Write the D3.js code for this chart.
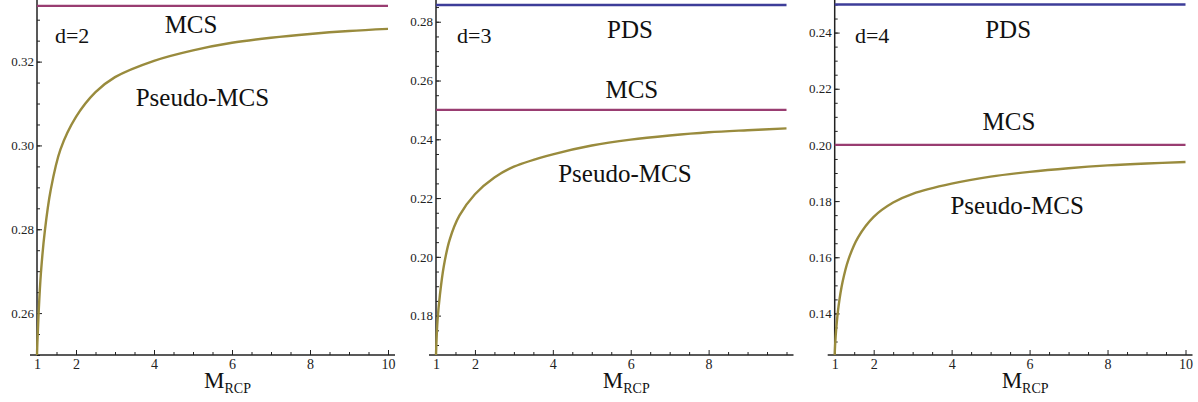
<!DOCTYPE html>
<html>
<head>
<meta charset="utf-8">
<script src="https://cdn.jsdelivr.net/npm/d3@7"></script>
<style>
  body { margin: 0; background: #fff; }
  svg text { font-family: "Liberation Serif", "Times New Roman", "DejaVu Serif", serif; }
</style>
</head>
<body>
<div id="chart"></div>
<script>
// values
const mGrid = [1, 1.01, 1.04, 1.1, 1.2, 1.35, 1.6, 2, 2.5, 3, 4, 5, 6, 7, 8, 9, 10];
const pseudoD2 = [0.25, 0.2531, 0.2597, 0.2695, 0.2795, 0.2893, 0.2990, 0.3068, 0.3127, 0.3163, 0.3202, 0.3227, 0.3245, 0.3257, 0.3266, 0.3273, 0.3278];
const pseudoD3 = [0.1666, 0.1705, 0.1785, 0.1870, 0.1968, 0.2058, 0.2140, 0.2213, 0.2270, 0.2307, 0.2349, 0.2379, 0.2399, 0.2413, 0.2424, 0.2431, 0.2437];
const pseudoD4 = [0.1252, 0.1286, 0.1347, 0.1427, 0.1511, 0.1591, 0.1671, 0.1744, 0.1795, 0.1826, 0.1862, 0.1887, 0.1904, 0.1917, 0.1927, 0.1934, 0.1939];

const dLabels = ["d=2", "d=3", "d=4"];
const mcsLevels = [0.3333, 0.25, 0.20];
const pdsLevels = [null, 0.2857, 0.25];

const yDomains = [[0.25, 0.3347], [0.1666, 0.2874], [0.1252, 0.2516]];
const yMajorTicks = [
  [0.26, 0.28, 0.30, 0.32],
  [0.18, 0.20, 0.22, 0.24, 0.26, 0.28],
  [0.14, 0.16, 0.18, 0.20, 0.22, 0.24]
];
const xMajorTicks = [[1, 2, 4, 6, 8, 10], [1, 2, 4, 6, 8], [1, 2, 4, 6, 8, 10]];

// annotation anchors in data coordinates [M, value]
const dLabelPos = [[1.46, 0.3245], [1.54, 0.2729], [1.52, 0.2364]];
const mcsLabelPos = [[4.95, 0.3268], [6.03, 0.2539], [5.47, 0.2053]];
const pdsLabelPos = [null, [5.98, 0.2746], [5.45, 0.2382]];
const pseudoLabelPos = [[5.24, 0.3094], [5.85, 0.2255], [5.68, 0.1754]];

const pseudoSeries = [pseudoD2, pseudoD3, pseudoD4];

const width = 1198, height = 402;
const xRanges = [[37, 388], [436, 786.5], [834.7, 1185.5]];
const yRange = [355, 0];
const serif = "'Liberation Serif', 'Times New Roman', 'DejaVu Serif', serif";

const colMCS = "#993d71", colPDS = "#3d3d99", colPseudo = "#998b3d";

const svg = d3.select("#chart").append("svg")
  .attr("width", width)
  .attr("height", height)
  .style("display", "block");

function minorValues(lo, hi, step) {
  const out = [];
  const n0 = Math.ceil(lo / step - 1e-9), n1 = Math.floor(hi / step + 1e-9);
  for (let i = n0; i <= n1; i++) out.push(+(i * step).toFixed(4));
  return out;
}

for (let p = 0; p < 3; p++) {
  const x = d3.scaleLinear().domain([1, 10]).range(xRanges[p]);
  const y = d3.scaleLinear().domain(yDomains[p]).range(yRange);
  const g = svg.append("g").attr("font-family", serif);

  // minor y ticks
  g.append("g")
    .attr("transform", "translate(" + x(1) + ",0)")
    .call(d3.axisLeft(y).tickValues(minorValues(yDomains[p][0], yDomains[p][1], 0.005)).tickSize(-3).tickSizeOuter(0).tickFormat(""))
    .call(a => a.select(".domain").remove())
    .selectAll("line").attr("stroke", "#222").attr("stroke-width", 1);

  // major y ticks
  const yAx = g.append("g")
    .attr("transform", "translate(" + x(1) + ",0)")
    .call(d3.axisLeft(y).tickValues(yMajorTicks[p]).tickSize(-5).tickSizeOuter(0).tickPadding(3).tickFormat(d3.format(".2f")));
  yAx.attr("font-family", serif);
  yAx.select(".domain").remove();
  yAx.selectAll("line").attr("stroke", "#222").attr("stroke-width", 1);
  yAx.selectAll("text")
    .attr("font-family", serif)
    .attr("font-size", 13)
    .attr("fill", "#222");

  // minor x ticks
  g.append("g")
    .attr("transform", "translate(0," + y.range()[0] + ")")
    .call(d3.axisBottom(x).tickValues(minorValues(1.5, 10, 0.5).filter(v => !xMajorTicks[p].includes(v))).tickSize(-3).tickSizeOuter(0).tickFormat(""))
    .call(a => a.select(".domain").remove())
    .selectAll("line").attr("stroke", "#222").attr("stroke-width", 1);

  // major x ticks
  const xAx = g.append("g")
    .attr("transform", "translate(0," + y.range()[0] + ")")
    .call(d3.axisBottom(x).tickValues(xMajorTicks[p]).tickSize(-5).tickSizeOuter(0).tickPadding(4).tickFormat(d3.format("d")));
  xAx.attr("font-family", serif);
  xAx.select(".domain").remove();
  xAx.selectAll("line").attr("stroke", "#222").attr("stroke-width", 1);
  xAx.selectAll("text")
    .attr("font-family", serif)
    .attr("font-size", 14)
    .attr("fill", "#222");

  // axis lines
  g.append("line")
    .attr("x1", x(1)).attr("x2", x(1))
    .attr("y1", y.range()[0]).attr("y2", y.range()[1])
    .attr("stroke", "#222").attr("stroke-width", 1.5);
  g.append("line")
    .attr("x1", x(1) - 7).attr("x2", x(10) + 7)
    .attr("y1", y.range()[0]).attr("y2", y.range()[0])
    .attr("stroke", "#222").attr("stroke-width", 1.5);

  // horizontal reference levels
  g.append("line")
    .attr("x1", x(1)).attr("x2", x(10))
    .attr("y1", y(mcsLevels[p])).attr("y2", y(mcsLevels[p]))
    .attr("stroke", colMCS).attr("stroke-width", 2.4);
  if (pdsLevels[p] !== null) {
    g.append("line")
      .attr("x1", x(1)).attr("x2", x(10))
      .attr("y1", y(pdsLevels[p])).attr("y2", y(pdsLevels[p]))
      .attr("stroke", colPDS).attr("stroke-width", 2.4);
  }

  // pseudo-MCS curve
  const line = d3.line()
    .x((d, i) => x(mGrid[i]))
    .y(d => y(d))
    .curve(d3.curveCatmullRom.alpha(0.5));
  g.append("path")
    .datum(pseudoSeries[p])
    .attr("d", line)
    .attr("fill", "none")
    .attr("stroke", colPseudo)
    .attr("stroke-width", 2.4);

  // annotations
  g.append("text")
    .attr("x", x(dLabelPos[p][0])).attr("y", y(dLabelPos[p][1]))
    .attr("font-size", 22).attr("fill", "#111")
    .text(dLabels[p]);
  g.append("text")
    .attr("x", x(mcsLabelPos[p][0])).attr("y", y(mcsLabelPos[p][1]))
    .attr("text-anchor", "middle")
    .attr("font-size", 25).attr("fill", "#111")
    .text("MCS");
  if (pdsLabelPos[p] !== null) {
    g.append("text")
      .attr("x", x(pdsLabelPos[p][0])).attr("y", y(pdsLabelPos[p][1]))
      .attr("text-anchor", "middle")
      .attr("font-size", 25).attr("fill", "#111")
      .text("PDS");
  }
  g.append("text")
    .attr("x", x(pseudoLabelPos[p][0])).attr("y", y(pseudoLabelPos[p][1]))
    .attr("text-anchor", "middle")
    .attr("font-size", 25).attr("fill", "#111")
    .text("Pseudo-MCS");

  // x axis title
  const t = g.append("text")
    .attr("x", (x.range()[0] + x.range()[1]) / 2 + 15)
    .attr("y", 388)
    .attr("text-anchor", "middle")
    .attr("fill", "#111");
  t.append("tspan").attr("font-size", 23).text("M");
  t.append("tspan").attr("font-size", 14).attr("dy", 5).text("RCP");
}
</script>
</body>
</html>
